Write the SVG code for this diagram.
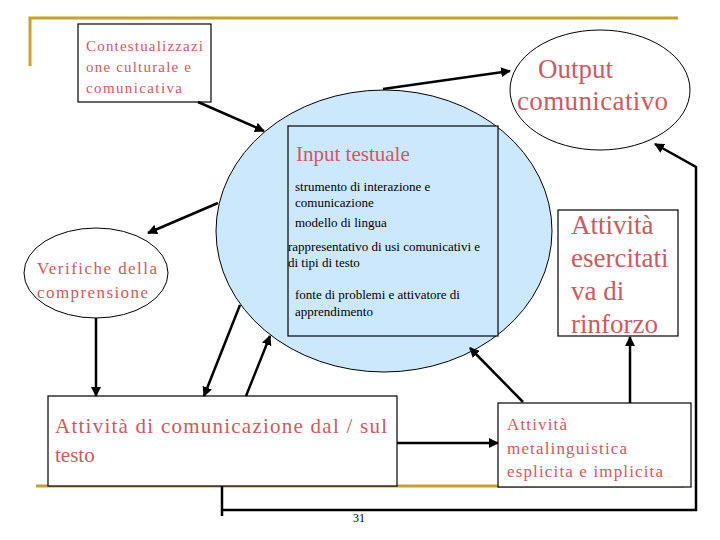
<svg xmlns="http://www.w3.org/2000/svg" width="720" height="540" viewBox="0 0 720 540">
<defs>
<marker id="ah" viewBox="0 0 10 10" refX="9" refY="5" markerWidth="4" markerHeight="4" orient="auto" markerUnits="strokeWidth">
<path d="M0,0 L10,5 L0,10 z" fill="#000"/>
</marker>
<style>
text{font-family:Liberation Serif, serif}
.red{fill:#CC5A5E}
.blk{fill:#000;font-size:13px}
.box{fill:#fff;stroke:#000;stroke-width:1.2}
.conn{fill:none;stroke:#000;stroke-width:2.5}
.arr{fill:none;stroke:#000;stroke-width:2.5;marker-end:url(#ah)}
.gold{fill:none;stroke:#C8A02C;stroke-width:3}
</style>
</defs>
<rect width="720" height="540" fill="#fff"/>
<g id="frame">
<polyline class="gold" points="30,66 30,18 678,18"/>
<line class="gold" x1="36" y1="486" x2="684" y2="486"/>
</g>
<g id="input">
<ellipse cx="384" cy="231" rx="168" ry="141" fill="#CCE8FC" stroke="#000" stroke-width="1"/>
<rect x="288" y="126" width="210" height="210" fill="#CCE8FC" stroke="#000" stroke-width="1.2"/>
<text class="red" x="296" y="161" font-size="21">Input testuale</text>
<text class="blk" x="295" y="191">strumento di interazione e</text>
<text class="blk" x="295" y="207">comunicazione</text>
<text class="blk" x="295" y="227">modello di lingua</text>
<text class="blk" x="288" y="251">rappresentativo di usi comunicativi e</text>
<text class="blk" x="288" y="267">di tipi di testo</text>
<text class="blk" x="295" y="299">fonte di problemi e attivatore di</text>
<text class="blk" x="295" y="316">apprendimento</text>
</g>
<g id="contest">
<rect class="box" x="78" y="24" width="133" height="78"/>
<text class="red" font-size="15" x="86" y="51" textLength="117" lengthAdjust="spacing">Contestualizzazi</text>
<text class="red" font-size="15" x="86" y="72" textLength="105" lengthAdjust="spacing">one culturale e</text>
<text class="red" font-size="15" x="86" y="93" textLength="96" lengthAdjust="spacing">comunicativa</text>
</g>
<g id="output">
<ellipse cx="600" cy="90" rx="90" ry="60" fill="#fff" stroke="#000" stroke-width="1"/>
<text class="red" font-size="27" x="538" y="78">Output</text>
<text class="red" font-size="27" x="517" y="110" textLength="151" lengthAdjust="spacing">comunicativo</text>
</g>
<g id="verifiche">
<ellipse cx="96" cy="273" rx="72" ry="45" fill="#fff" stroke="#000" stroke-width="1"/>
<text class="red" font-size="17" x="37" y="274" textLength="120" lengthAdjust="spacing">Verifiche della</text>
<text class="red" font-size="17" x="37" y="298" textLength="111" lengthAdjust="spacing">comprensione</text>
</g>
<g id="esercitativa">
<rect class="box" x="558" y="210" width="120" height="126"/>
<text class="red" font-size="27" x="571" y="234">Attività</text>
<text class="red" font-size="27" x="571" y="267">esercitati</text>
<text class="red" font-size="27" x="571" y="300">va di</text>
<text class="red" font-size="27" x="571" y="333">rinforzo</text>
</g>
<g id="comunicazione">
<rect class="box" x="48" y="396" width="349" height="90"/>
<text class="red" font-size="21" x="55" y="433" textLength="332" lengthAdjust="spacing">Attività di comunicazione dal / sul</text>
<text class="red" font-size="21" x="55" y="462">testo</text>
</g>
<g id="metalinguistica">
<rect class="box" x="498" y="403" width="193" height="84"/>
<text class="red" font-size="17" x="507" y="430" textLength="60" lengthAdjust="spacing">Attività</text>
<text class="red" font-size="17" x="507" y="454" textLength="120" lengthAdjust="spacing">metalinguistica</text>
<text class="red" font-size="17" x="507" y="477" textLength="156" lengthAdjust="spacing">esplicita e implicita</text>
</g>
<g id="connectors">
<line class="arr" x1="198" y1="102" x2="264" y2="131"/>
<line class="arr" x1="383" y1="89" x2="510" y2="71"/>
<line class="arr" x1="218" y1="203" x2="148" y2="233"/>
<line class="arr" x1="96" y1="318" x2="96" y2="396"/>
<line class="arr" x1="240" y1="305" x2="204" y2="396"/>
<line class="arr" x1="246" y1="396" x2="270" y2="336"/>
<line class="arr" x1="397" y1="443" x2="498" y2="443"/>
<line class="arr" x1="523" y1="402" x2="470" y2="348"/>
<line class="arr" x1="630" y1="403" x2="630" y2="337"/>
<line class="conn" x1="222" y1="486" x2="222" y2="516"/>
<polyline class="arr" points="222,510 696,510 696,167 655,144"/>
</g>
<text x="359" y="522" font-size="12" text-anchor="middle">31</text>
</svg>
